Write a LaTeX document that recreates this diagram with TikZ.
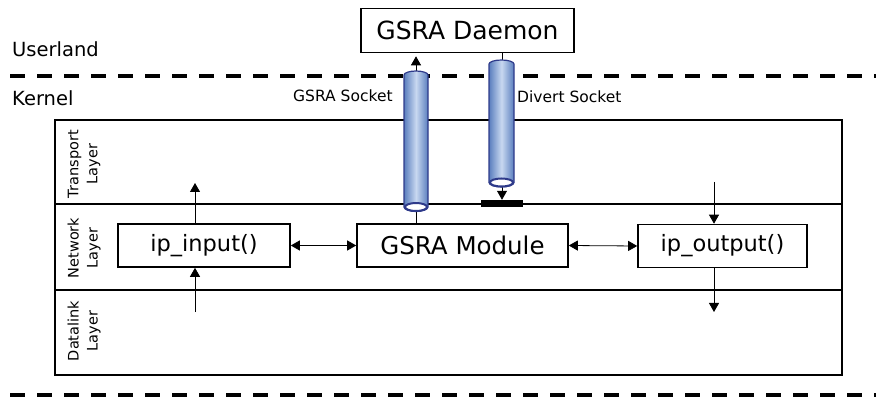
\documentclass[tikz,border=0pt]{standalone}
\usepackage{fontspec}
\setmainfont{DejaVu Sans}
\usetikzlibrary{arrows.meta}
\definecolor{cylrim}{HTML}{2E3A8A}
\definecolor{cyldark}{HTML}{5A7EBE}
\definecolor{cyllight}{HTML}{C8D8F0}
\begin{document}
\begin{tikzpicture}[x=1pt,y=1pt,
  box/.style={draw, line width=1.6pt, minimum height=43pt, inner sep=0pt},
  flow/.style={line width=0.8pt, -{Triangle[width=10pt,length=9pt]}},
  twoway/.style={line width=0.8pt, {Triangle[width=10pt,length=9pt]}-{Triangle[width=10pt,length=9pt]}},
  realm/.style={line width=3.6pt, dash pattern=on 15pt off 12pt},
  layertxt/.style={rotate=90, align=center, inner sep=0pt, font=\fontsize{14.5}{19}\selectfont},
  sockettxt/.style={anchor=base west, inner sep=0pt, font=\fontsize{15.5}{18}\selectfont},
  realmtxt/.style={anchor=base west, inner sep=0pt, font=\fontsize{19.5}{22}\selectfont},
  cylbody/.style={draw=cylrim, line width=1.2pt, left color=cyldark, right color=cyldark, middle color=cyllight},
  cylmouth/.style={draw=cylrim, line width=2pt, fill=white},
]
\useasboundingbox (0,0) rectangle (876,-398);

% user/kernel boundaries
\draw[realm] (10,-76) -- (876,-76);
\draw[realm] (10,-395) -- (876,-395);
\node[realmtxt] (userland) at (12,-57) {Userland};
\node[realmtxt] (kernel) at (12,-106) {Kernel};

% protocol stack frame
\draw[line width=1.6pt] (55,-120) rectangle (842,-375);
\draw[line width=1.6pt] (55,-204) -- (842,-204);
\draw[line width=1.6pt] (55,-290) -- (842,-290);
\node[layertxt] (transport) at (84,-164) {Transport\\Layer};
\node[layertxt] (network) at (84,-248) {Network\\Layer};
\node[layertxt] (datalink) at (84,-331) {Datalink\\Layer};

% boxes
\node[box, minimum width=213pt, minimum height=44pt, font=\fontsize{25}{28}\selectfont] (daemon) at (467.5,-30.5) {GSRA Daemon};
\node[box, minimum width=172pt, font=\fontsize{22.5}{26}\selectfont] (ipin) at (204,-245.5) {ip\_input()};
\node[box, minimum width=211pt, font=\fontsize{24.5}{28}\selectfont] (module) at (462.5,-245.5) {GSRA Module};
\node[box, minimum width=169pt, font=\fontsize{22.5}{26}\selectfont] (ipout) at (722.5,-246) {ip\_output()};
\node[fill=black, minimum width=42pt, minimum height=7pt, inner sep=0pt] (bar) at (502,-203.5) {};

% packet flow
\coordinate (inup) at (195,-183);
\coordinate (inlow) at (195,-312);
\coordinate (outtop) at (714,-182);
\coordinate (outlow) at (714,-312);
\draw[flow] (ipin.north -| inup) -- (inup);
\draw[flow] (inlow) -- (ipin.south -| inlow);
\draw[flow] (outtop) -- (ipout.north -| outtop);
\draw[flow] (ipout.south -| outlow) -- (outlow);
\draw[twoway] (ipin.east) -- (module.west);
\draw[twoway] (module.east) -- (ipout.west);

% socket channels
\coordinate (gsx) at (416,0);
\coordinate (dvx) at (502,0);
\draw[flow, shorten >=3pt] (module.north -| gsx) -- (daemon.south -| gsx);
\draw[flow] (daemon.south -| dvx) -- (bar.north -| dvx);

% GSRA socket pipe
\path[cylbody] (404,-75) arc[start angle=180, end angle=0, x radius=12, y radius=4]
  -- (428,-207) arc[start angle=0, end angle=-180, x radius=12, y radius=4.5] -- cycle;
\draw[cylmouth] (416,-207) ellipse[x radius=11, y radius=4];
% divert socket pipe
\path[cylbody] (489,-64) arc[start angle=180, end angle=0, x radius=12.5, y radius=4]
  -- (514,-182.5) arc[start angle=0, end angle=-180, x radius=12.5, y radius=4.5] -- cycle;
\draw[cylmouth] (501.5,-182.5) ellipse[x radius=11.5, y radius=4];

\node[sockettxt] (gslabel) at (293,-102) {GSRA Socket};
\node[sockettxt] (dvlabel) at (517,-103) {Divert Socket};
\end{tikzpicture}
\end{document}
